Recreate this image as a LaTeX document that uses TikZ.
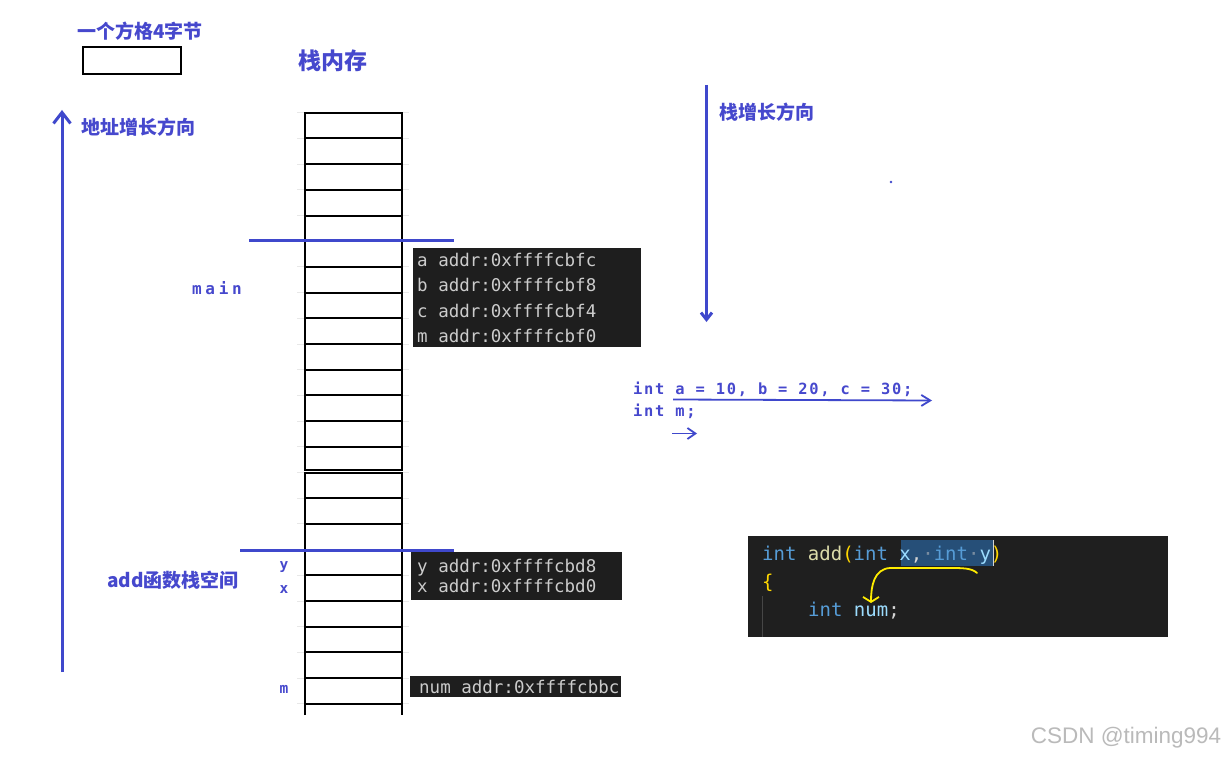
\documentclass[tikz,border=0pt]{standalone}
\usepackage{fontspec}
\usepackage{xcolor}
\usetikzlibrary{arrows.meta, positioning, calc}
\setmainfont{Liberation Sans}
\newfontfamily\cjkfont{Noto Sans CJK SC}
\newfontfamily\termfont{DejaVu Sans Mono}
\newfontfamily\snipfont{DejaVu Sans Mono}[LetterSpace=11]
\newfontfamily\mainlblfont{DejaVu Sans Mono}[LetterSpace=23]
\definecolor{penblue}{RGB}{63,72,204}
\definecolor{txtblue}{RGB}{70,72,205}
\definecolor{termbg}{RGB}{30,30,30}
\definecolor{termtext}{RGB}{204,204,204}
\definecolor{codebg}{RGB}{31,31,31}
\definecolor{kw}{RGB}{86,156,214}
\definecolor{fn}{RGB}{220,220,170}
\definecolor{brk}{RGB}{255,215,0}
\definecolor{par}{RGB}{156,220,254}
\definecolor{punc}{RGB}{212,212,212}
\definecolor{selbg}{RGB}{38,79,120}
\definecolor{wsdot}{RGB}{120,140,160}
\definecolor{guide}{RGB}{70,70,70}
\definecolor{handyellow}{RGB}{255,236,0}

\begin{document}
\begin{tikzpicture}[x=1pt, y=-1pt,
    lbl/.style={inner sep=0pt, anchor=west, text depth=0pt, text height=#1},
    cjk/.style={lbl=14.4pt, text=txtblue, font=\cjkfont\bfseries\fontsize{19}{19}\selectfont},
    snip/.style={lbl=11.7pt, text=txtblue, font=\snipfont\bfseries\fontsize{15.4}{15.4}\selectfont},
    var/.style={inner sep=0pt, text=txtblue, font=\termfont\bfseries\fontsize{14.5}{14.5}\selectfont},
    termbox/.style={rectangle, fill=termbg, inner sep=0pt},
    addr/.style={lbl=13.3pt, text=termtext, font=\termfont\fontsize{17.5}{17.5}\selectfont},
    code/.style={lbl=14.4pt, font=\termfont\fontsize{19}{19}\selectfont},
    cell/.style={line width=2pt, black},
    stub/.style={line width=1pt, black!9},
    sep/.style={line width=3pt, penblue},
    pen/.style={line width=3pt, penblue},
    thinpen/.style={line width=1.8pt, penblue},
    hand/.style={line width=1.8pt, handyellow, line cap=round, line join=round}]
\fill[white] (0,0) rectangle (1227,757);
\useasboundingbox (0,0) rectangle (1227,757);
% 图例
\node[cjk] (legend) at (77,31) {一个方格4字节};
\node[draw, line width=2pt, minimum width=98pt, minimum height=27pt, inner sep=0pt] (cellkey) at (132,60.5) {};
\node[lbl=17.5pt, text=txtblue, font=\cjkfont\bfseries\fontsize{23}{23}\selectfont] (title) at (298,61) {栈内存};
% 栈格子
\foreach \k in {0,...,23} {
  \draw[stub] (297,{112.7+25.7*\k}) -- (305,{112.7+25.7*\k});
  \draw[stub] (402,{112.7+25.7*\k}) -- (409,{112.7+25.7*\k});
}
\draw[cell] (305,112.7) rectangle (402,469.5);
\foreach \k in {1,...,13}
  \draw[cell] (305,{112.7+25.7*\k}) -- (402,{112.7+25.7*\k});
\draw[cell] (305,715) -- (305,472.5) -- (402,472.5) -- (402,715);
\foreach \k in {15,...,23}
  \draw[cell] (305,{112.7+25.7*\k}) -- (402,{112.7+25.7*\k});
% 分隔线
\draw[sep] (249,240.7) -- (454,240.7);
\draw[sep] (240,550) -- (454,550);
% 方向
\coordinate (addrlow) at (62,672);
\coordinate (addrhigh) at (62,110);
\draw[pen, -{Straight Barb[length=11pt, width=17pt]}] (addrlow) -- (addrhigh);
\node[cjk] (addrdir) at (81,127) {地址增长方向};
\coordinate (stacktop) at (706.5,85);
\coordinate (stackend) at (706.5,322);
\draw[pen, -{Straight Barb[length=7pt, width=11pt]}] (stacktop) -- (stackend);
\node[cjk] (stackdir) at (719,112) {栈增长方向};
\fill[penblue] (891,182) circle (1.3pt);
% main 栈帧
\node[lbl=11.7pt, text=txtblue, font=\mainlblfont\bfseries\fontsize{16}{16}\selectfont] (mainlbl) at (192,289) {main};
\node[termbox, minimum width=228pt, minimum height=99pt] (mainaddr) at (527,297.5) {};
\node[addr] (addra) at (417,260) {a addr:0xffffcbfc};
\node[addr] (addrb) at (417,285) {b addr:0xffffcbf8};
\node[addr] (addrc) at (417,310.5) {c addr:0xffffcbf4};
\node[addr] (addrm) at (417,336) {m addr:0xffffcbf0};
% add 栈帧
\node[cjk] (addlbl) at (107,580) {add函数栈空间};
\node[var] (vary) at (284,567) {y};
\node[var] (varx) at (284,590) {x};
\node[var] (varm) at (284,689) {m};
\node[termbox, minimum width=211pt, minimum height=48pt] (addaddr) at (516.5,576) {};
\node[addr] (addry) at (417,565.5) {y addr:0xffffcbd8};
\node[addr] (addrx) at (417,585.5) {x addr:0xffffcbd0};
\node[termbox, minimum width=211pt, minimum height=21pt] (numaddr) at (515.5,686.5) {};
\node[addr] (addrnum) at (419,686.5) {num addr:0xffffcbbc};
% main 代码
\node[snip] (decl1) at (633,389) {int a = 10, b = 20, c = 30;};
\node[snip] (decl2) at (633,411) {int m;};
\coordinate (abcstart) at (673,399.5);
\coordinate (abcend) at (932,400.5);
\draw[thinpen, -{Straight Barb[length=9pt, width=11pt]}] (abcstart) -- (abcend);
\coordinate (mstart) at (672,433.5);
\coordinate (mend) at (697,433.5);
\draw[thinpen, -{Straight Barb[length=8pt, width=11pt]}] (mstart) -- (mend);
% add 代码
\node[rectangle, fill=codebg, inner sep=0pt, minimum width=420pt, minimum height=101pt] (codebox) at (958,586.5) {};
\fill[selbg] (901,540) rectangle (993,566);
\draw[guide, line width=1pt] (762.5,596) -- (762.5,637);
\node[code] (sig) at (762,553) {\textcolor{kw}{int} \textcolor{fn}{add}\textcolor{brk}{(}\textcolor{kw}{int} \textcolor{par}{x}\textcolor{punc}{,}\textcolor{wsdot}{·}\textcolor{kw}{int}\textcolor{wsdot}{·}\textcolor{par}{y}\textcolor{brk}{)}};
\draw[punc, line width=1pt] (993.5,540) -- (993.5,566);
\node[code, text=brk] (brace) at (762,581) {\{};
\node[code] (body) at (808,609) {\textcolor{kw}{int} \textcolor{par}{num}\textcolor{punc}{;}};
\coordinate (ystart) at (977,573);
\coordinate (numend) at (871,603);
\draw[hand, -{Straight Barb[length=5pt, width=16pt]}] (ystart) .. controls (972,568) and (962,568) .. (950,568) -- (890,568) .. controls (874,569) and (871,586) .. (numend);
% 水印
\node[inner sep=0pt, text=black!27, font=\fontsize{22.5}{22.5}\selectfont] (mark) at (1126,738) {CSDN @timing994};
\end{tikzpicture}
\end{document}
